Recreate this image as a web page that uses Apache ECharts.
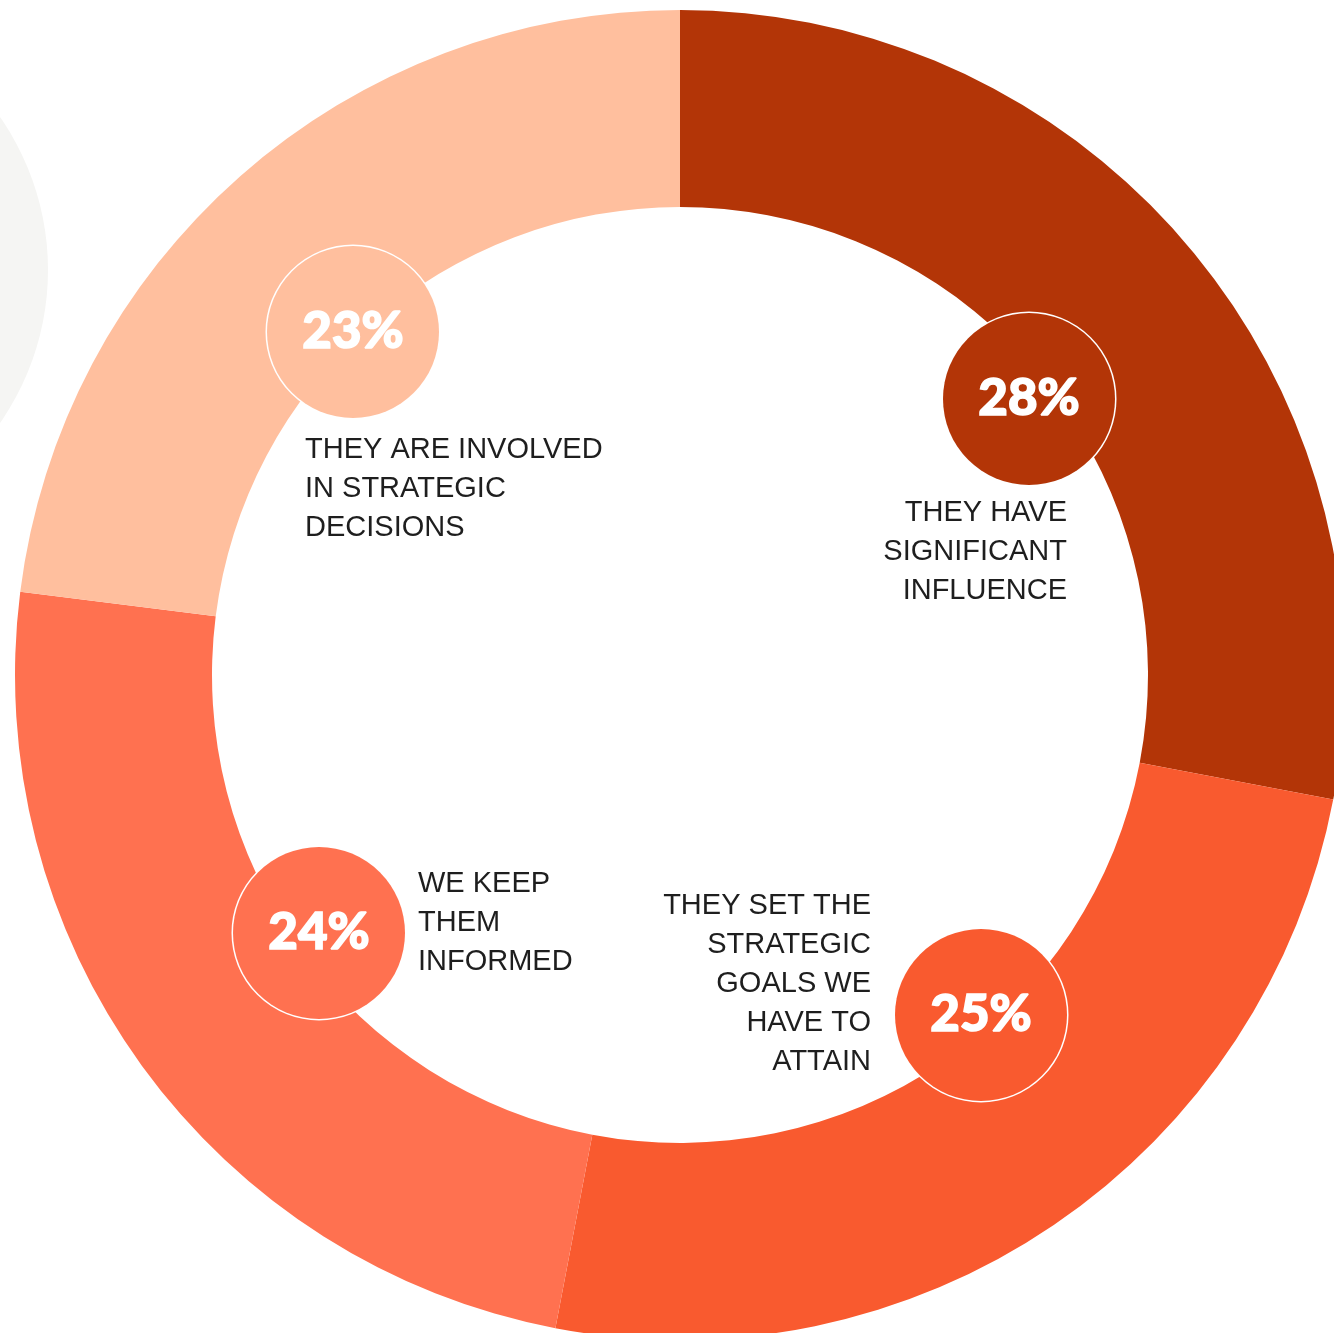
<!DOCTYPE html>
<html>
<head>
<meta charset="utf-8">
<script src="https://cdn.jsdelivr.net/npm/echarts@6/dist/echarts.min.js"></script>
<style>
  html, body { margin: 0; padding: 0; background: #ffffff; }
  #chart { width: 1334px; height: 1333px; }
</style>
</head>
<body>
<div id="chart"></div>
<script>
// ---- Data ----
const categories = [
  'THEY HAVE SIGNIFICANT INFLUENCE',
  'THEY SET THE STRATEGIC GOALS WE HAVE TO ATTAIN',
  'WE KEEP THEM INFORMED',
  'THEY ARE INVOLVED IN STRATEGIC DECISIONS'
];
const descLines = [
  ['THEY HAVE', 'SIGNIFICANT', 'INFLUENCE'],
  ['THEY SET THE', 'STRATEGIC', 'GOALS WE', 'HAVE TO', 'ATTAIN'],
  ['WE KEEP', 'THEM', 'INFORMED'],
  ['THEY ARE INVOLVED', 'IN STRATEGIC', 'DECISIONS']
];
const values = [28, 25, 24, 23];

// ---- Styles / layout ----
const colors = ['#B33507', '#F95A2F', '#FF7150', '#FFBF9E'];
const pieCenter = [680, 675];
const badgePos = [[1029, 399], [981, 1015], [319, 933], [353, 332]];
const descPos = [[1067, 552, 'right'], [871, 984, 'right'], [418, 923, 'left'], [305, 489, 'left']];
const DESC_FONT = '"Liberation Sans", Arial, sans-serif';
const PCT_FONT = 'Lato, Inter, sans-serif';

const chart = echarts.init(document.getElementById('chart'), null, { renderer: 'canvas' });

const baseData = categories.map((c, i) => ({ name: c, value: values[i] }));

const option = {
  backgroundColor: '#ffffff',
  animation: false,
  graphic: [{
    type: 'circle',
    z: -10,
    silent: true,
    shape: { cx: -220, cy: 270, r: 268 },
    style: { fill: '#F5F5F3' }
  }],
  series: [
    {
      type: 'pie',
      center: pieCenter,
      radius: [468, 665],
      startAngle: 90,
      clockwise: true,
      silent: true,
      label: { show: false },
      labelLine: { show: false },
      emphasis: { disabled: true },
      data: baseData.map((d, i) => ({ ...d, itemStyle: { color: colors[i], borderWidth: 0 } }))
    },
    {
      type: 'pie',
      center: pieCenter,
      radius: [468, 665],
      startAngle: 90,
      clockwise: true,
      silent: true,
      z: 5,
      itemStyle: { color: 'rgba(0,0,0,0)' },
      labelLine: { show: false },
      emphasis: { disabled: true },
      label: {
        show: true,
        position: 'inside',
        formatter: p => '{b|' + p.value + '%}'
      },
      labelLayout: p => ({
        x: badgePos[p.dataIndex][0],
        y: badgePos[p.dataIndex][1],
        align: 'center',
        verticalAlign: 'middle'
      }),
      data: baseData.map((d, i) => ({
        ...d,
        label: {
          rich: {
            b: {
              width: 172, height: 172, lineHeight: 172,
              borderRadius: 86,
              backgroundColor: colors[i],
              borderColor: '#ffffff', borderWidth: 1.5,
              align: 'center', verticalAlign: 'middle',
              color: '#ffffff', fontSize: 51, fontWeight: 900,
              textBorderColor: '#ffffff', textBorderWidth: 1.6,
              fontFamily: PCT_FONT
            }
          }
        }
      }))
    },
    {
      type: 'pie',
      center: pieCenter,
      radius: [468, 665],
      startAngle: 90,
      clockwise: true,
      silent: true,
      z: 6,
      itemStyle: { color: 'rgba(0,0,0,0)' },
      labelLine: { show: false },
      emphasis: { disabled: true },
      label: {
        show: true,
        position: 'inside',
        formatter: p => descLines[p.dataIndex].join('\n'),
        color: '#1E1E1E',
        fontSize: 29,
        lineHeight: 39,
        fontWeight: 400,
        fontFamily: DESC_FONT
      },
      labelLayout: p => ({
        x: descPos[p.dataIndex][0],
        y: descPos[p.dataIndex][1],
        align: descPos[p.dataIndex][2],
        verticalAlign: 'middle'
      }),
      data: baseData.map((d, i) => ({ ...d, label: { align: descPos[i][2] } }))
    }
  ]
};

chart.setOption(option);
</script>
</body>
</html>
